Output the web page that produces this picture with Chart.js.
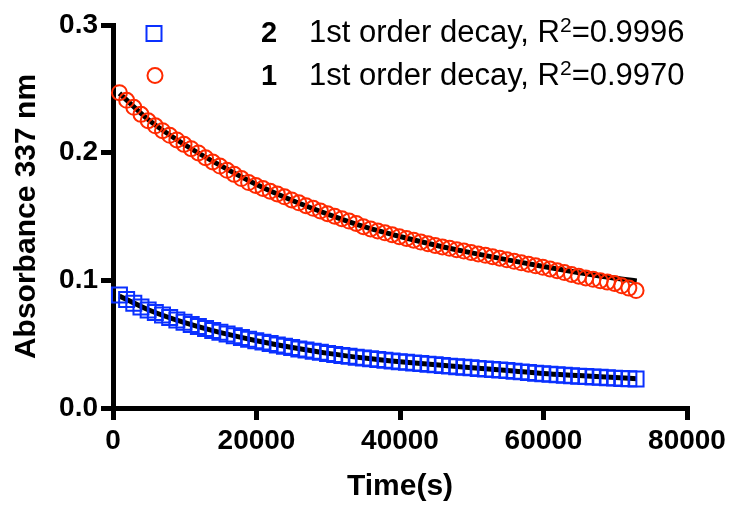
<!DOCTYPE html>
<html>
<head>
<meta charset="utf-8">
<script src="https://cdn.jsdelivr.net/npm/chart.js@4.4.0/dist/chart.umd.min.js"></script>
<style>
  html, body { margin: 0; padding: 0; background: #fff; }
  #wrap { width: 731px; height: 505px; }
</style>
</head>
<body>
<div id="wrap"><canvas id="myChart" width="731" height="505"></canvas></div>
<script>
//////////////////// Data ////////////////////
// sampling times (s), shared by both runs
const times = [
  900, 1900, 2900, 3900, 4900, 5900, 6900, 7900, 8900, 9900,
  10900, 11900, 12900, 13900, 14900, 15900, 16900, 17900, 18900, 19900,
  20900, 21900, 22900, 23900, 24900, 25900, 26900, 27900, 28900, 29900,
  30900, 31900, 32900, 33900, 34900, 35900, 36900, 37900, 38900, 39900,
  40900, 41900, 42900, 43900, 44900, 45900, 46900, 47900, 48900, 49900,
  50900, 51900, 52900, 53900, 54900, 55900, 56900, 57900, 58900, 59900,
  60900, 61900, 62900, 63900, 64900, 65900, 66900, 67900, 68900, 69900,
  70900, 71900, 72900
];

// run 1 (red circles)
const abs1 = [
  0.2470, 0.2410, 0.2355, 0.2300, 0.2250, 0.2210, 0.2172, 0.2136, 0.2100, 0.2065,
  0.2031, 0.1998, 0.1960, 0.1927, 0.1895, 0.1862, 0.1830, 0.1797, 0.1766, 0.1743,
  0.1720, 0.1698, 0.1677, 0.1654, 0.1630, 0.1607, 0.1585, 0.1564, 0.1543, 0.1522,
  0.1502, 0.1483, 0.1464, 0.1446, 0.1420, 0.1402, 0.1387, 0.1372, 0.1357, 0.1342,
  0.1328, 0.1314, 0.1300, 0.1287, 0.1273, 0.1262, 0.1251, 0.1240, 0.1229, 0.1218,
  0.1207, 0.1196, 0.1185, 0.1173, 0.1161, 0.1149, 0.1137, 0.1126, 0.1114, 0.1102,
  0.1089, 0.1075, 0.1061, 0.1046, 0.1032, 0.1019, 0.1008, 0.0997, 0.0986, 0.0975,
  0.0957, 0.0939, 0.0920
];

// run 2 (blue squares)
const abs2 = [
  0.0885, 0.0850, 0.0820, 0.0792, 0.0768, 0.0748, 0.0728, 0.0708, 0.0689, 0.0671,
  0.0654, 0.0638, 0.0623, 0.0607, 0.0593, 0.0579, 0.0565, 0.0552, 0.0539, 0.0527,
  0.0516, 0.0505, 0.0494, 0.0483, 0.0473, 0.0463, 0.0454, 0.0445, 0.0436, 0.0427,
  0.0419, 0.0412, 0.0405, 0.0398, 0.0392, 0.0386, 0.0380, 0.0374, 0.0369, 0.0363,
  0.0358, 0.0353, 0.0348, 0.0343, 0.0338, 0.0333, 0.0328, 0.0324, 0.0319, 0.0315,
  0.0310, 0.0306, 0.0302, 0.0298, 0.0293, 0.0288, 0.0283, 0.0278, 0.0273, 0.0268,
  0.0264, 0.0260, 0.0256, 0.0253, 0.0249, 0.0246, 0.0243, 0.0240, 0.0237, 0.0234,
  0.0232, 0.0230, 0.0228
];

// fitted 1st order decay curves
const fitTimes = [900, 5000, 10000, 15000, 20000, 25000, 30000, 35000, 40000, 45000, 50000, 55000, 60000, 65000, 70000, 73000];
const fit1 = [0.2465, 0.2255, 0.2062, 0.1898, 0.1750, 0.1625, 0.1517, 0.1420, 0.1343, 0.1275, 0.1215, 0.1160, 0.1108, 0.1060, 0.1016, 0.0995];
const fit2 = [0.0878, 0.0768, 0.0668, 0.0590, 0.0527, 0.0474, 0.0428, 0.0392, 0.0363, 0.0338, 0.0315, 0.0294, 0.0270, 0.0254, 0.0238, 0.0229];

// legend rows (top to bottom)
const legendIds = ['2', '1'];
const legendText = ['1st order decay, R', '1st order decay, R'];
const legendR2 = ['0.9996', '0.9970'];

const xTicks = [0, 20000, 40000, 60000, 80000];
const yTicks = [0.0, 0.1, 0.2, 0.3];
/////////////////////////////////////////////

const RED = '#ff2a00';
const BLUE = '#0a30ff';
const FONT = "'Liberation Sans', Arial, Helvetica, sans-serif";

const toXY = (xs, ys) => xs.map((x, i) => ({ x: x, y: ys[i] }));

///////////// Legend with superscript R2 /////////////
const seriesLegend = {
  id: 'seriesLegend',
  afterDraw(chart) {
    const { ctx } = chart;
    const styles = [
      { style: 'rect', color: BLUE },
      { style: 'circle', color: RED }
    ];
    ctx.save();
    legendIds.forEach((id, i) => {
      const base = 42 + i * 43;
      const my = 33.5 + i * 42;

      // marker
      ctx.lineWidth = 2;
      ctx.strokeStyle = styles[i].color;
      ctx.beginPath();
      if (styles[i].style === 'rect') {
        ctx.rect(146.5, my - 7.5, 15, 15);
      } else {
        ctx.arc(155, my, 7.5, 0, Math.PI * 2);
      }
      ctx.stroke();

      // series number
      ctx.fillStyle = '#000';
      ctx.textAlign = 'left';
      ctx.textBaseline = 'alphabetic';
      ctx.font = 'bold 29px ' + FONT;
      ctx.fillText(id, 261, base);

      // description, R, superscript 2, value
      let x = 309;
      ctx.font = '31px ' + FONT;
      ctx.fillText(legendText[i], x, base);
      x += ctx.measureText(legendText[i]).width;
      ctx.font = '21px ' + FONT;
      ctx.fillText('2', x, base - 10);
      x += ctx.measureText('2').width;
      ctx.font = '31px ' + FONT;
      ctx.fillText('=' + legendR2[i], x, base);
    });
    ctx.restore();
  }
};

//////////// Setup ////////////////
const data = {
  datasets: [{
    label: '1 fit',
    data: toXY(fitTimes, fit1),
    showLine: true,
    borderColor: '#000',
    borderWidth: 5,
    pointRadius: 0,
    cubicInterpolationMode: 'monotone',
    clip: false,
    order: 3
  }, {
    label: '2 fit',
    data: toXY(fitTimes, fit2),
    showLine: true,
    borderColor: '#000',
    borderWidth: 5,
    pointRadius: 0,
    cubicInterpolationMode: 'monotone',
    clip: false,
    order: 3
  }, {
    label: '1',
    data: toXY(times, abs1),
    pointStyle: 'circle',
    pointRadius: 7.5,
    pointBorderWidth: 2,
    pointBorderColor: RED,
    pointBackgroundColor: 'rgba(0,0,0,0)',
    clip: false,
    order: 1
  }, {
    label: '2',
    data: toXY(times, abs2),
    pointStyle: 'rect',
    pointRadius: 10.6,
    pointBorderWidth: 2,
    pointBorderColor: BLUE,
    pointBackgroundColor: 'rgba(0,0,0,0)',
    clip: false,
    order: 1
  }]
};

const axisGrid = {
  drawOnChartArea: false,
  drawTicks: true,
  tickLength: 12,
  lineWidth: 5,
  color: '#000'
};

///////////// Config ////////////////////
const config = {
  type: 'scatter',
  data: data,
  options: {
    responsive: false,
    animation: false,
    devicePixelRatio: 1,
    layout: {
      padding: { left: 0, top: 25, right: 44, bottom: 0 }
    },
    plugins: {
      legend: { display: false },
      tooltip: { enabled: false }
    },
    scales: {
      x: {
        type: 'linear',
        min: 0,
        max: 80000,
        afterBuildTicks: (scale) => { scale.ticks = xTicks.map(v => ({ value: v })); },
        afterFit: (scale) => { scale.height = 97; },
        grid: axisGrid,
        border: { display: true, width: 5, color: '#000' },
        ticks: {
          color: '#000',
          padding: 4,
          maxRotation: 0,
          autoSkip: false,
          font: { family: FONT, size: 28, weight: 'bold' },
          callback: (v) => String(v)
        },
        title: {
          display: true,
          text: 'Time(s)',
          color: '#000',
          padding: { top: 0, bottom: 0 },
          font: { family: FONT, size: 30, weight: 'bold' }
        }
      },
      y: {
        type: 'linear',
        min: 0,
        max: 0.3,
        afterBuildTicks: (scale) => { scale.ticks = yTicks.map(v => ({ value: v })); },
        afterFit: (scale) => { scale.width = 113; },
        grid: axisGrid,
        border: { display: true, width: 5, color: '#000' },
        ticks: {
          color: '#000',
          padding: 3,
          autoSkip: false,
          font: { family: FONT, size: 28, weight: 'bold' },
          callback: (v) => v.toFixed(1)
        },
        title: {
          display: true,
          text: 'Absorbance 337 nm',
          color: '#000',
          padding: { top: 9, bottom: 0 },
          font: { family: FONT, size: 30, weight: 'bold' }
        }
      }
    }
  },
  plugins: [seriesLegend]
};

const chart1 = new Chart(document.getElementById('myChart').getContext('2d'), config);
</script>
</body>
</html>
